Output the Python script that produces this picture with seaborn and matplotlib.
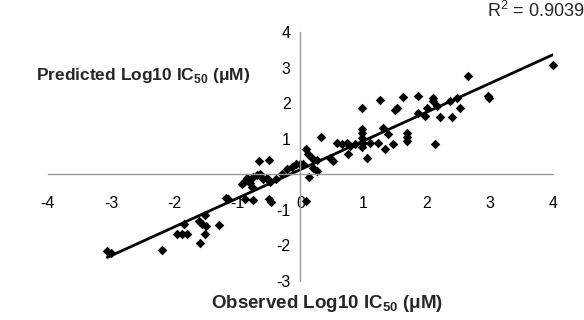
import numpy as np
import pandas as pd
import matplotlib
matplotlib.use("Agg")
import matplotlib.pyplot as plt
import seaborn as sns

# Observed / predicted log10 IC50 values
observed = [
    -3.06, -3.00, -2.19, -1.95, -1.88, -1.80, -1.84, -1.61, -1.56, -1.51,
    -1.50, -1.51, -1.59, -1.29, -1.18, -1.14, -0.88, -0.75, -0.50, -0.47,
    -0.66, -0.50, -0.93, -0.88, -0.85, -0.80, -0.75, -0.69, -0.64, -0.59,
    -0.77, -0.53, -0.48, -0.39, -0.29, -0.21, -0.13, -0.07, 0.09, 0.12,
    0.18, 0.26, 0.04, 0.13, 0.09, 0.20, 0.26, 0.00, 0.32, 0.58,
    0.66, 0.74, 0.78, 0.86, 0.51, 0.47, 0.75, 0.97, 0.97, 0.97,
    0.99, 0.97, 1.05, 1.10, 1.23, 1.31, 1.38, 1.34, 1.46, 1.68,
    1.68, 1.68, 2.13, 0.97, 1.26, 1.62, 1.86, 1.53, 1.50, 2.10,
    2.10, 2.37, 2.48, 2.00, 2.16, 1.86, 1.97, 2.21, 2.40, 2.52,
    2.66, 2.97, 2.98, 4.00,
]
predicted = [
    -2.17, -2.20, -2.14, -1.69, -1.69, -1.69, -1.41, -1.32, -1.41, -1.15,
    -1.46, -1.69, -1.92, -1.44, -0.68, -0.70, -0.70, -0.73, -0.70, -0.79,
    0.37, 0.39, -0.28, -0.20, -0.11, -0.25, -0.08, -0.03, 0.00, -0.14,
    -0.37, -0.11, -0.23, -0.14, 0.00, 0.14, 0.20, 0.28, 0.70, 0.56,
    0.45, 0.39, 0.28, -0.08, -0.76, 0.17, 0.08, 0.28, 1.04, 0.87,
    0.85, 0.87, 0.79, 0.85, 0.37, 0.45, 0.56, 1.27, 1.15, 1.01,
    0.87, 0.76, 0.45, 0.87, 0.87, 1.30, 1.13, 0.70, 0.85, 1.15,
    1.04, 0.93, 0.85, 1.86, 2.08, 2.17, 2.20, 1.86, 1.80, 2.14,
    2.06, 2.06, 2.14, 1.86, 1.92, 1.72, 1.63, 1.61, 1.61, 1.86,
    2.76, 2.20, 2.14, 3.07,
]
x_ticks = [-4, -3, -2, -1, 0, 1, 2, 3, 4]
y_ticks = [-3, -2, -1, 1, 2, 3, 4]
r2_label = "R$^2$ = 0.9039"

sns.set_style("white")
plt.rcParams["font.family"] = ["Liberation Sans", "DejaVu Sans"]
plt.rcParams["mathtext.fontset"] = "custom"
plt.rcParams["mathtext.rm"] = "Liberation Sans"
plt.rcParams["mathtext.bf"] = "Liberation Sans:bold"
plt.rcParams["axes.unicode_minus"] = False

df = pd.DataFrame({"observed": observed, "predicted": predicted})

fig = plt.figure(figsize=(5.84, 3.2), dpi=100)
ax = fig.add_axes([0.082, 0.122, 0.865, 0.778])

sns.regplot(data=df, x="observed", y="predicted", ci=None, marker="D", ax=ax,
            scatter_kws=dict(s=24, color="black", alpha=1, linewidths=0, clip_on=False),
            line_kws=dict(color="black", lw=2))

ax.set_xlim(-4, 4)
ax.set_ylim(-3, 4)
ax.set_xticks(x_ticks)
ax.set_yticks(y_ticks)
ax.set_xlabel("")
ax.set_ylabel("")

# axes crossing at the origin
for side in ["top", "right"]:
    ax.spines[side].set_visible(False)
ax.spines["left"].set_position(("data", 0))
ax.spines["bottom"].set_position(("data", 0))
for side in ["left", "bottom"]:
    ax.spines[side].set_color("#999999")
    ax.spines[side].set_linewidth(1)
ax.tick_params(axis="both", direction="out", length=4, width=1, color="#999999",
               labelsize=11.5, labelcolor="black")
ax.tick_params(axis="x", pad=12)
ax.tick_params(axis="y", pad=3)

fig.text(0.245, 0.765, "Predicted Log10 IC$_{\\mathbf{50}}$ (\u03bcM)",
         fontsize=12.5, fontweight="bold", ha="center", va="center")
fig.text(0.56, 0.053, "Observed Log10 IC$_{\\mathbf{50}}$ (\u03bcM)",
         fontsize=13.5, fontweight="bold", ha="center", va="center")
fig.text(0.917, 0.965, r2_label, fontsize=13, ha="center", va="center")

plt.savefig("out.png", dpi=100)
plt.close()
